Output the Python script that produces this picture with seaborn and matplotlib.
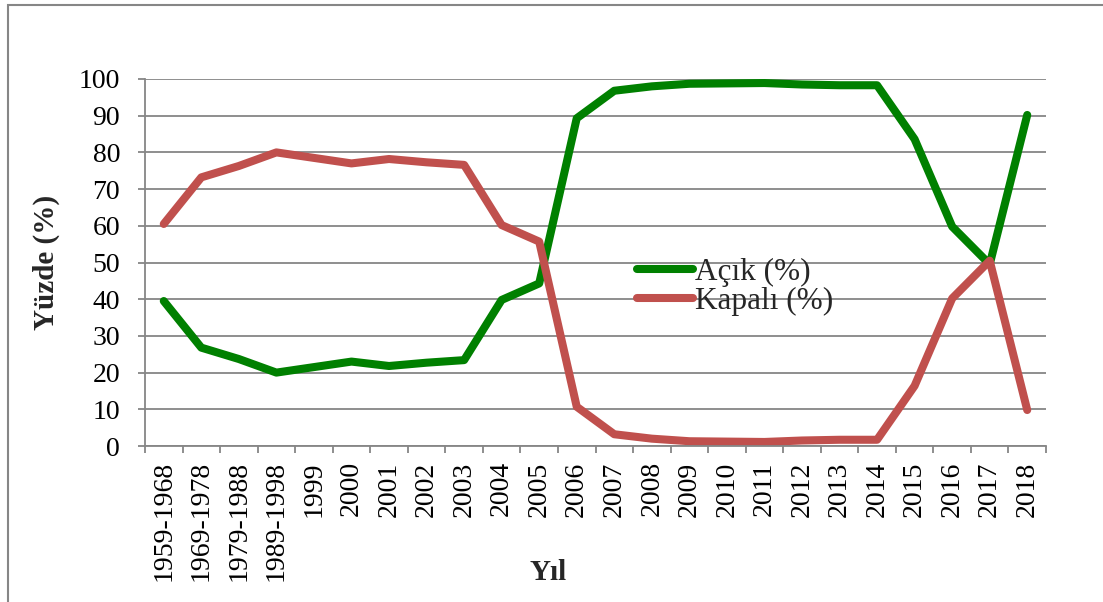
import matplotlib.pyplot as plt
import matplotlib.patches as mpatches
import seaborn as sns
import pandas as pd

years = [
    "1959-1968", "1969-1978", "1979-1988", "1989-1998", "1999", "2000",
    "2001", "2002", "2003", "2004", "2005", "2006", "2007", "2008",
    "2009", "2010", "2011", "2012", "2013", "2014", "2015", "2016",
    "2017", "2018",
]
acik = [39.5, 26.8, 23.7, 20.0, 21.5, 23.0, 21.8, 22.7, 23.4, 39.8, 44.3, 89.3,
        96.8, 98.0, 98.7, 98.8, 98.9, 98.5, 98.3, 98.3, 83.6, 59.8, 49.5, 90.2]
kapali = [60.5, 73.2, 76.3, 80.0, 78.5, 77.0, 78.2, 77.3, 76.6, 60.2, 55.7, 10.7,
          3.2, 2.0, 1.3, 1.2, 1.1, 1.5, 1.7, 1.7, 16.4, 40.2, 50.5, 9.8]
series_names = ["Açık (%)", "Kapalı (%)"]
y_ticks = list(range(0, 101, 10))

df = pd.DataFrame({
    "Yıl": years * 2,
    "Yüzde": acik + kapali,
    "Seri": [series_names[0]] * len(years) + [series_names[1]] * len(years),
})

sns.set_style("white")
plt.rcParams["font.family"] = ["Liberation Serif", "DejaVu Serif"]

grey = "#868686"
green = "#008000"
red = "#C0504D"

fig = plt.figure(figsize=(11.03, 6.02), dpi=100, facecolor="white")
ax = fig.add_axes([145 / 1103, 1 - 446 / 602, 901 / 1103, 367 / 602])

sns.lineplot(
    data=df, x="Yıl", y="Yüzde", hue="Seri", palette=[green, red],
    linewidth=5.8, sort=False, ax=ax,
    solid_capstyle="round", solid_joinstyle="round",
)

ax.set_xlim(-0.5, len(years) - 0.5)
ax.set_ylim(0, 100)
ax.set_yticks(y_ticks)
ax.set_xticks(range(len(years)))
ax.set_xticklabels(years, rotation=90, va="top", ha="center")
ax.set_xticks([i - 0.5 for i in range(len(years) + 1)], minor=True)

ax.grid(axis="y", color=grey, linewidth=1.3)
ax.grid(axis="x", visible=False)
ax.set_axisbelow(True)
for side in ["top", "right"]:
    ax.spines[side].set_visible(False)
for side in ["left", "bottom"]:
    ax.spines[side].set_color(grey)
    ax.spines[side].set_linewidth(1.3)

ax.tick_params(axis="y", which="major", direction="out", length=5, width=1.3,
               color=grey, labelsize=20, labelcolor="black", pad=13, left=True)
ax.tick_params(axis="x", which="major", length=0, labelsize=20,
               labelcolor="black", pad=11)
ax.tick_params(axis="x", which="minor", direction="out", length=5, width=1.3,
               color=grey, bottom=True)

ax.set_xlabel("")
ax.set_ylabel("")
fig.text(548 / 1103, 1 - 572 / 602, "Yıl", fontsize=21, fontweight="bold",
         ha="center", va="center")
fig.text(46 / 1103, 1 - 262 / 602, "Yüzde (%)", fontsize=21, fontweight="bold",
         ha="center", va="center", rotation=90)

handles, labels = ax.get_legend_handles_labels()
leg = ax.legend(
    handles, labels, loc="center left", bbox_to_anchor=(0.546, 0.433),
    frameon=False, fontsize=22.5, handlelength=1.8, handletextpad=0.05,
    labelspacing=0.0, borderpad=0, borderaxespad=0,
)
for h in leg.get_lines():
    h.set_linewidth(5.8)
    h.set_solid_capstyle("round")

# outer chart frame (right and bottom edges fall outside the image)
frame = mpatches.Rectangle(
    (8 / 1103, -0.1), 1.2, 1.1 - 4.5 / 602 + 0.0,
    transform=fig.transFigure, fill=False, edgecolor=grey, linewidth=1.5,
)
fig.patches.append(frame)

fig.savefig("out.png", dpi=100, facecolor="white")
